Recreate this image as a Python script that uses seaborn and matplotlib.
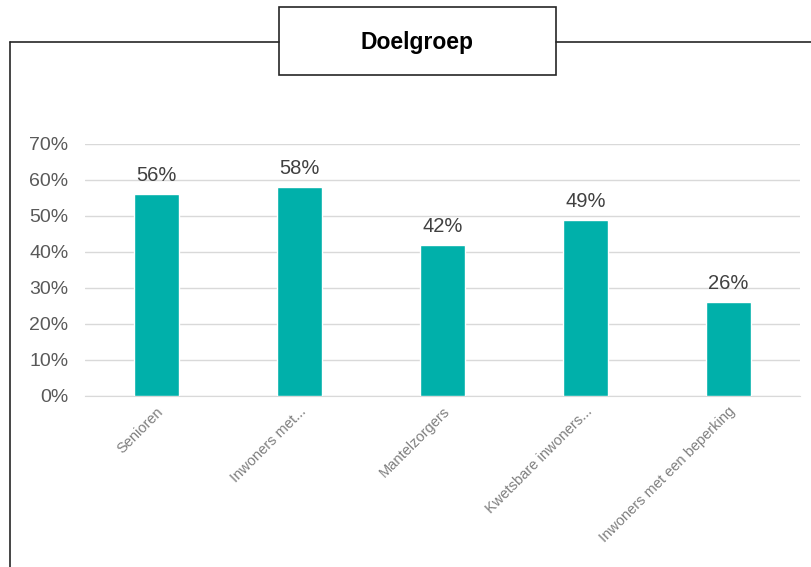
import pandas as pd
import numpy as np
import matplotlib.pyplot as plt
import seaborn as sns
from matplotlib.patches import Rectangle
from matplotlib.lines import Line2D

# data
categories = ['Senioren', 'Inwoners met...', 'Mantelzorgers', 'Kwetsbare inwoners...', 'Inwoners met een beperking']
values = [0.56, 0.58, 0.42, 0.49, 0.26]
yticks = [0, 0.1, 0.2, 0.3, 0.4, 0.5, 0.6, 0.7]

df = pd.DataFrame({'Doelgroep': categories, 'Aandeel': values})

sns.set_style('white')
plt.rcParams['font.family'] = ['Liberation Sans', 'DejaVu Sans']

fig = plt.figure(figsize=(8.11, 5.67), dpi=100)
ax = fig.add_axes([85 / 811, 1 - 396 / 567, 715 / 811, 252 / 567])

sns.barplot(data=df, x='Doelgroep', y='Aandeel', color='#00B0AA', width=0.32,
            saturation=1, ax=ax, zorder=3)

ax.set_ylim(0, 0.7)
ax.set_yticks(yticks)
ax.set_yticklabels([f'{int(round(t * 100))}%' for t in yticks], fontsize=14, color='#595959')
ax.yaxis.grid(True, color='#D9D9D9', linewidth=1, zorder=0)
ax.set_xlabel('')
ax.set_ylabel('')
for s in ['top', 'right', 'left']:
    ax.spines[s].set_visible(False)
ax.spines['bottom'].set_color('#D9D9D9')
ax.tick_params(axis='y', length=0, pad=12)
ax.set_xticks(range(len(categories)))
ax.set_xticklabels(categories, rotation=45, ha='right', rotation_mode='anchor',
                   fontsize=10.5, color='#7F7F7F')
ax.tick_params(axis='x', length=0, pad=6)

for i, v in enumerate(values):
    ax.text(i, v + 0.025, f'{int(round(v * 100))}%', ha='center', va='bottom',
            fontsize=14.5, color='#404040')

# frame around the chart with title box
fig.add_artist(Line2D([10 / 811, 10 / 811], [0, 1 - 42 / 567], transform=fig.transFigure,
                      color='#262626', linewidth=1.2))
fig.add_artist(Line2D([10 / 811, 279 / 811], [1 - 42 / 567, 1 - 42 / 567], transform=fig.transFigure,
                      color='#262626', linewidth=1.2))
fig.add_artist(Line2D([556 / 811, 1], [1 - 42 / 567, 1 - 42 / 567], transform=fig.transFigure,
                      color='#262626', linewidth=1.2))
fig.add_artist(Rectangle((279 / 811, 1 - 75 / 567), 277 / 811, 68 / 567, transform=fig.transFigure,
                         facecolor='white', edgecolor='#262626', linewidth=1.2))
fig.text(417 / 811, 1 - 42 / 567, 'Doelgroep', ha='center', va='center',
         fontsize=16.5, fontweight='bold', color='black')

fig.savefig('out.png', dpi=100)
